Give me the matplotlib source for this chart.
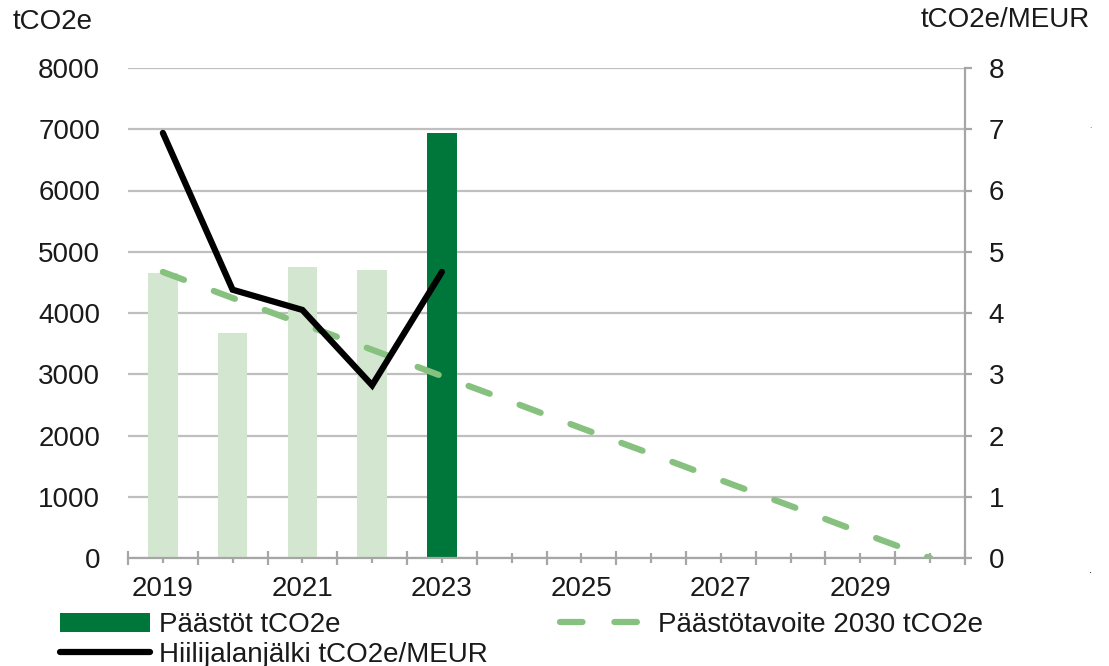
import matplotlib
matplotlib.use("Agg")
import matplotlib.pyplot as plt
from matplotlib.patches import Patch
from matplotlib.lines import Line2D
import numpy as np

plt.rcParams['font.family'] = ['Liberation Sans', 'DejaVu Sans']

years = ['2019', '2020', '2021', '2022', '2023', '2024', '2025', '2026', '2027', '2028', '2029', '2030']
emissions_hist = [4650, 3670, 4750, 4700]          # 2019-2022 (light bars)
emissions_current = [6940]                          # 2023 (dark bar)
target = [4670, 4245, 3820, 3400, 2970, 2550, 2120, 1700, 1270, 850, 420, 0]
intensity = [6.94, 4.38, 4.05, 2.82, 4.67]          # tCO2e/MEUR 2019-2023

LIGHT = '#d3e6d0'
DARK = '#00773a'
DASH = '#86c17f'
GRID = '#bfbfbf'
SPINE = '#a6a6a6'
TXT = '#1a1a1a'
LW = 4.5
DASHES = (3.6, 5.1)

fig = plt.figure(figsize=(11.09, 6.66), dpi=100)
ax = fig.add_axes([128/1109, 1-558/666, (965-128)/1109, (558-68)/666])
ax2 = ax.twinx()

x = np.arange(len(years))
bw = 0.42
ax.bar(x[:len(emissions_hist)], emissions_hist, width=bw, color=LIGHT, zorder=2)
ax.bar(x[len(emissions_hist):len(emissions_hist)+len(emissions_current)], emissions_current,
       width=bw, color=DARK, zorder=2)
ax.plot(x[:len(target)], target, color=DASH, lw=LW, dashes=DASHES,
        dash_capstyle='round', zorder=3)
ax2.plot(x[:len(intensity)], intensity, color='black', lw=LW, solid_joinstyle='miter',
         solid_capstyle='round', zorder=4)

ax.set_xlim(-0.5, len(years)-0.5)
ax.set_ylim(0, 8000)
ax2.set_ylim(0, 8)
ax.set_yticks(np.arange(0, 8001, 1000))
ax2.set_yticks(np.arange(0, 9, 1))

ax.yaxis.grid(True, color=GRID, lw=1.6, zorder=0)
ax.set_axisbelow(True)

for s in ['left', 'top', 'right']:
    ax.spines[s].set_visible(False)
for s in ['left', 'top', 'bottom']:
    ax2.spines[s].set_visible(False)
ax.spines['bottom'].set_color(SPINE)
ax.spines['bottom'].set_linewidth(1.6)
ax2.spines['right'].set_color(SPINE)
ax2.spines['right'].set_linewidth(1.6)

ax.set_xticks(x)
ax.set_xticklabels([y if i % 2 == 0 else '' for i, y in enumerate(years)])
ax.set_xticks(np.arange(-0.5, len(years), 1.0), minor=True)
ax.tick_params(axis='x', which='major', direction='inout', length=7.5, width=1.6,
               color=SPINE, labelsize=20, labelcolor=TXT, pad=9)
ax.tick_params(axis='x', which='minor', direction='inout', length=10.5, width=1.6,
               color=SPINE)
ax.tick_params(axis='y', length=0, labelsize=20, labelcolor=TXT, pad=20)
ax2.tick_params(axis='y', length=5, width=1.6, color=SPINE, labelsize=20,
                labelcolor=TXT, pad=12)

fig.text(13/1109, 1-22/666, 'tCO2e', ha='left', va='center', fontsize=20, color=TXT)
fig.text(1090/1109, 1-20/666, 'tCO2e/MEUR', ha='right', va='center', fontsize=20, color=TXT)
fig.text(1090/1109, 1-127/666, '.', ha='center', va='center', fontsize=6, color=DARK)
fig.text(1090/1109, 1-570/666, '.', ha='center', va='center', fontsize=8, color='black')

handles = [Patch(facecolor=DARK, edgecolor='none'),
           Line2D([], [], color='black', lw=LW, solid_capstyle='round'),
           Line2D([], [], color=DASH, lw=LW, dashes=DASHES, dash_capstyle='round')]
labels = ['Päästöt tCO2e', 'Hiilijalanjälki tCO2e/MEUR', 'Päästötavoite 2030 tCO2e']
fig.legend(handles, labels, loc='upper left', bbox_to_anchor=(60/1109, 1-612/666),
           ncol=2, frameon=False, fontsize=20, handlelength=3.25, handletextpad=0.3,
           columnspacing=2.6, borderaxespad=0, borderpad=0, labelspacing=0.15,
           labelcolor=TXT)

fig.savefig('out.png', dpi=100)
